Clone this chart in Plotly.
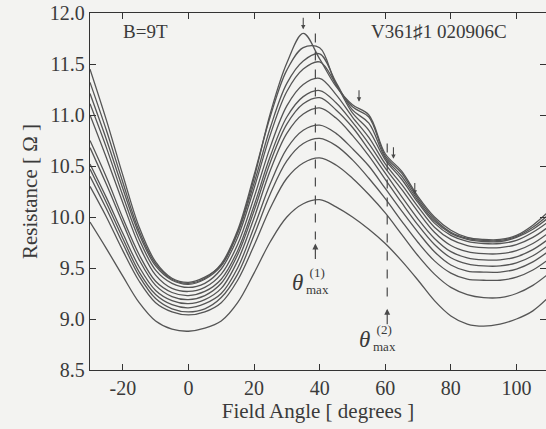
import plotly.graph_objects as go

angles = [-30, -25, -20, -15, -10, -5, 0, 5, 10, 15, 20, 25, 30, 35, 40, 45,
          50, 55, 60, 65, 70, 75, 80, 85, 90, 95, 100, 105, 110]

r0 = [11.45, 10.95, 10.41, 9.90, 9.56, 9.40, 9.36, 9.41, 9.53, 9.85, 10.38, 11.02, 11.51, 11.80, 11.55, 11.28,
      11.10, 11.00, 10.62, 10.45, 10.20, 10.00, 9.87, 9.80, 9.78, 9.78, 9.82, 9.92, 10.06]
r1 = [11.32, 10.85, 10.34, 9.86, 9.54, 9.39, 9.35, 9.40, 9.54, 9.87, 10.41, 10.99, 11.44, 11.66, 11.66, 11.30,
      11.08, 10.98, 10.60, 10.43, 10.18, 9.98, 9.85, 9.79, 9.77, 9.77, 9.81, 9.90, 10.03]
r2 = [11.21, 10.76, 10.28, 9.83, 9.52, 9.38, 9.34, 9.39, 9.52, 9.84, 10.33, 10.88, 11.31, 11.53, 11.60, 11.32,
      11.05, 10.92, 10.58, 10.40, 10.16, 9.96, 9.84, 9.78, 9.76, 9.76, 9.80, 9.88, 10.00]
r3 = [11.11, 10.68, 10.21, 9.78, 9.48, 9.35, 9.31, 9.35, 9.49, 9.80, 10.28, 10.81, 11.23, 11.45, 11.52, 11.30,
      11.02, 10.85, 10.56, 10.37, 10.14, 9.94, 9.82, 9.76, 9.74, 9.74, 9.77, 9.85, 9.96]
r4 = [11.00, 10.58, 10.14, 9.72, 9.43, 9.30, 9.27, 9.31, 9.44, 9.73, 10.19, 10.69, 11.09, 11.30, 11.36, 11.20,
      10.98, 10.78, 10.52, 10.32, 10.10, 9.90, 9.78, 9.72, 9.70, 9.70, 9.73, 9.80, 9.91]
r5 = [10.75, 10.39, 9.99, 9.63, 9.37, 9.26, 9.23, 9.27, 9.39, 9.67, 10.11, 10.60, 10.98, 11.18, 11.24, 11.12,
      10.93, 10.72, 10.48, 10.27, 10.05, 9.85, 9.72, 9.66, 9.64, 9.64, 9.67, 9.74, 9.85]
r6 = [10.68, 10.32, 9.94, 9.58, 9.33, 9.22, 9.19, 9.23, 9.35, 9.63, 10.06, 10.54, 10.91, 11.11, 11.17, 11.05,
      10.88, 10.66, 10.43, 10.20, 9.98, 9.79, 9.66, 9.60, 9.58, 9.58, 9.61, 9.68, 9.79]
r7 = [10.52, 10.19, 9.84, 9.51, 9.28, 9.18, 9.15, 9.19, 9.30, 9.57, 9.99, 10.46, 10.82, 11.01, 11.07, 10.97,
      10.80, 10.60, 10.37, 10.14, 9.92, 9.73, 9.60, 9.54, 9.52, 9.52, 9.55, 9.62, 9.73]
r8 = [10.47, 10.14, 9.79, 9.46, 9.24, 9.14, 9.11, 9.15, 9.25, 9.50, 9.90, 10.33, 10.67, 10.85, 10.90, 10.82,
      10.67, 10.50, 10.28, 10.06, 9.85, 9.66, 9.53, 9.47, 9.46, 9.46, 9.49, 9.56, 9.67]
r9 = [10.40, 10.08, 9.74, 9.42, 9.20, 9.10, 9.07, 9.10, 9.21, 9.44, 9.82, 10.23, 10.55, 10.72, 10.77, 10.70,
      10.56, 10.38, 10.18, 9.96, 9.75, 9.57, 9.45, 9.39, 9.38, 9.38, 9.41, 9.48, 9.59]
r10 = [10.30, 10.00, 9.67, 9.37, 9.16, 9.07, 9.04, 9.07, 9.16, 9.38, 9.72, 10.09, 10.38, 10.53, 10.58, 10.51,
       10.38, 10.22, 10.04, 9.83, 9.62, 9.44, 9.31, 9.24, 9.21, 9.21, 9.25, 9.33, 9.45]
r11 = [9.95, 9.69, 9.42, 9.16, 8.98, 8.90, 8.88, 8.91, 8.98, 9.16, 9.45, 9.76, 10.00, 10.13, 10.17, 10.10,
       10.00, 9.88, 9.74, 9.57, 9.38, 9.18, 9.03, 8.95, 8.93, 8.95, 9.00, 9.08, 9.22]

curves = [r0, r1, r2, r3, r4, r5, r6, r7, r8, r9, r10, r11]

x_tickvals = [-20, 0, 20, 40, 60, 80, 100]
x_ticktext = ["-20", "0", "20", "40", "60", "80", "100"]
y_tickvals = [8.5, 9.0, 9.5, 10.0, 10.5, 11.0, 11.5, 12.0]

theta1 = 38.7
theta2 = 60.6

FONT = "Liberation Serif, DejaVu Serif, serif"
INK = "#4a4a4a"
TXT = "#3a3a3a"

fig = go.Figure()
for c in curves:
    fig.add_trace(go.Scatter(x=angles, y=c, mode="lines",
                             line=dict(color="#555555", width=1.3, shape="spline", smoothing=1.0),
                             showlegend=False, hoverinfo="skip"))

fig.add_shape(type="line", x0=theta1, x1=theta1, y0=11.80, y1=9.78, line=dict(color=INK, width=1.2, dash="dash"))
fig.add_shape(type="line", x0=theta2, x1=theta2, y0=10.72, y1=9.14, line=dict(color=INK, width=1.2, dash="dash"))

anns = []
for xv, yv in [(theta1, 9.74), (theta2, 9.10)]:
    anns.append(dict(x=xv, y=yv, ax=0, ay=17, xref="x", yref="y", showarrow=True, arrowhead=2, arrowsize=1.0,
                     arrowwidth=1.2, arrowcolor=INK, text=""))
for xv, yv in [(35, 11.84), (52, 11.13), (62.5, 10.57), (69, 10.22)]:
    anns.append(dict(x=xv, y=yv, ax=0, ay=-13, xref="x", yref="y", showarrow=True, arrowhead=2, arrowsize=0.8,
                     arrowwidth=1.1, arrowcolor=INK, text=""))
anns.append(dict(x=33.3, y=9.36, xref="x", yref="y", text="<i>θ</i>", showarrow=False, font=dict(family=FONT, size=23, color=TXT)))
anns.append(dict(x=39.3, y=9.37, xref="x", yref="y", text="(1)<br>max", showarrow=False, font=dict(family=FONT, size=13, color=TXT)))
anns.append(dict(x=53.8, y=8.80, xref="x", yref="y", text="<i>θ</i>", showarrow=False, font=dict(family=FONT, size=23, color=TXT)))
anns.append(dict(x=59.8, y=8.81, xref="x", yref="y", text="(2)<br>max", showarrow=False, font=dict(family=FONT, size=13, color=TXT)))
anns.append(dict(x=-20.7, y=11.82, xref="x", yref="y", text="B=9T", showarrow=False, xanchor="left",
                 font=dict(family=FONT, size=19, color=TXT)))
anns.append(dict(x=55.0, y=11.82, xref="x", yref="y", text="V361♯1 020906C", showarrow=False, xanchor="left",
                 font=dict(family=FONT, size=19, color=TXT)))

fig.update_layout(
    width=546, height=429,
    margin=dict(l=90, r=0, t=13, b=59),
    paper_bgcolor="#f3f3f1", plot_bgcolor="#f3f3f1",
    font=dict(family=FONT, size=20, color=TXT),
    annotations=anns,
    showlegend=False,
)
fig.update_xaxes(range=[-30, 109], tickvals=x_tickvals, ticktext=x_ticktext, ticks="inside", ticklen=6,
                 tickcolor="#333", showline=True, linecolor="#333", linewidth=1.3, mirror="ticks",
                 showgrid=False, zeroline=False, tickfont=dict(family=FONT, size=20),
                 title=dict(text="Field Angle [ degrees ]", font=dict(family=FONT, size=21), standoff=3))
fig.update_yaxes(range=[8.5, 12.0], tickvals=y_tickvals, tickformat=".1f", ticks="inside", ticklen=6,
                 tickcolor="#333", showline=True, linecolor="#333", linewidth=1.3, mirror="ticks",
                 showgrid=False, zeroline=False, tickfont=dict(family=FONT, size=20),
                 title=dict(text="Resistance [ Ω ]", font=dict(family=FONT, size=21), standoff=6))

fig.write_html("out.html")
